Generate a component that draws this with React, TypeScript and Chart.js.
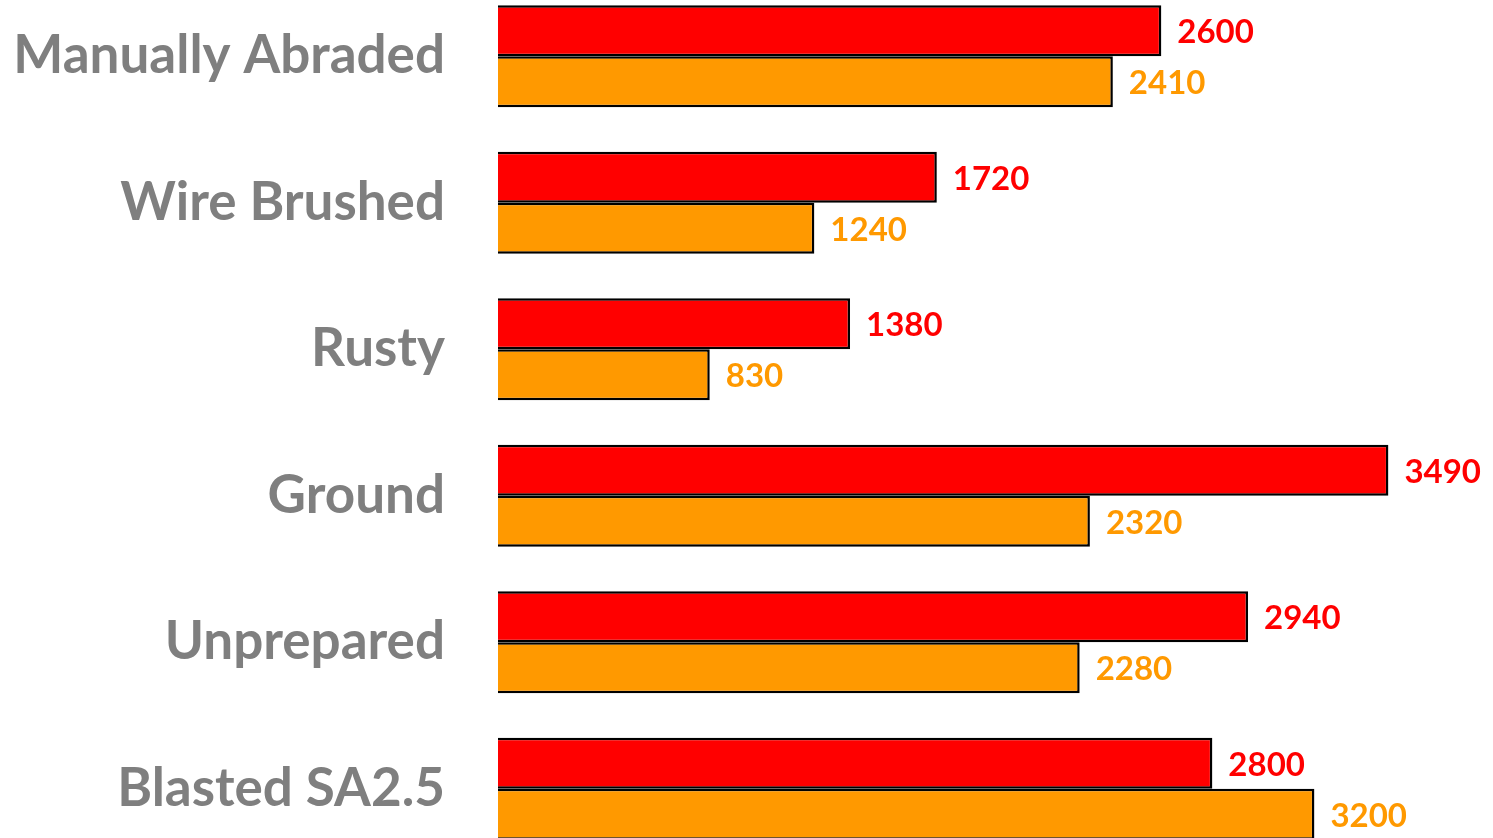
import React, { useEffect, useRef } from "react";
import { Chart, registerables } from "chart.js";

Chart.register(...registerables);

const categories = ["Manually Abraded", "Wire Brushed", "Rusty", "Ground", "Unprepared", "Blasted SA2.5"];
const redValues = [2600, 1720, 1380, 3490, 2940, 2800];
const orangeValues = [2410, 1240, 830, 2320, 2280, 3200];
const seriesNames = ["Series 1", "Series 2"];
const seriesColors = ["#FF0000", "#FF9900"];
const axisMax = 3900;

const valueLabelPlugin = {
  id: "valueLabels",
  afterDatasetsDraw(chart: any) {
    const ctx = chart.ctx;
    ctx.save();
    ctx.font = "bold 33px Lato";
    ctx.textAlign = "left";
    ctx.textBaseline = "middle";
    chart.data.datasets.forEach((ds: any, i: number) => {
      const meta = chart.getDatasetMeta(i);
      ctx.fillStyle = seriesColors[i];
      meta.data.forEach((el: any, j: number) => {
        ctx.fillText(String(ds.data[j]), el.x + 16, el.y + 2);
      });
    });
    ctx.restore();
  },
};

export default function App() {
  const canvasRef = useRef<HTMLCanvasElement | null>(null);

  useEffect(() => {
    let chart: Chart | null = null;
    let cancelled = false;
    const make = () => {
      if (cancelled || !canvasRef.current) return;
      chart = new Chart(canvasRef.current, {
        type: "bar",
        data: {
          labels: categories,
          datasets: [
            {
              label: seriesNames[0],
              data: redValues,
              backgroundColor: seriesColors[0],
              borderColor: "#000000",
              borderWidth: 2.5,
              categoryPercentage: 0.696,
              barPercentage: 1,
            },
            {
              label: seriesNames[1],
              data: orangeValues,
              backgroundColor: seriesColors[1],
              borderColor: "#000000",
              borderWidth: 2.5,
              categoryPercentage: 0.696,
              barPercentage: 1,
            },
          ],
        },
        options: {
          indexAxis: "y",
          animation: false,
          responsive: false,
          maintainAspectRatio: false,
          layout: { padding: 0 },
          plugins: { legend: { display: false }, tooltip: { enabled: false } },
          scales: {
            x: { display: false, min: 0, max: axisMax },
            y: {
              grid: { display: false, drawTicks: false },
              border: { display: false },
              afterFit: (scale: any) => {
                scale.width = 498;
                scale.paddingTop = 0;
                scale.paddingBottom = 0;
              },
              ticks: {
                padding: 53,
                color: "#7F7F7F",
                font: { family: "Lato", weight: "bold", size: 53 },
              },
            },
          },
        },
        plugins: [valueLabelPlugin],
      });
    };
    const fontsApi = (document as any).fonts;
    if (fontsApi && fontsApi.load) {
      Promise.all([fontsApi.load("bold 53px Lato"), fontsApi.load("bold 33px Lato")])
        .catch(() => null)
        .then(make);
    } else {
      make();
    }
    return () => {
      cancelled = true;
      if (chart) chart.destroy();
    };
  }, []);

  return (
    <div style={{ position: "fixed", left: 0, top: -17, width: 1493, height: 879, background: "#ffffff" }}>
      <canvas ref={canvasRef} width={1493} height={879} style={{ width: 1493, height: 879, display: "block" }} />
    </div>
  );
}
